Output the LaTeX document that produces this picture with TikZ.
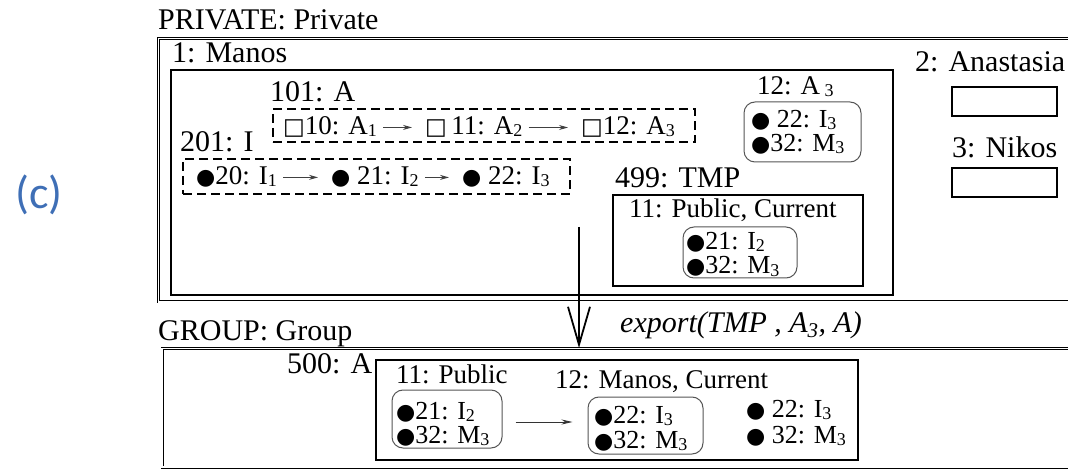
\documentclass[tikz,border=0pt]{standalone}
\usepackage{fontspec}
\setmainfont{Liberation Serif}
\setsansfont{Carlito}
\newfontfamily\symfont{DejaVu Sans}
\usetikzlibrary{arrows.meta}
\definecolor{labelblue}{HTML}{3F6FB6}
\definecolor{boxgray}{HTML}{555555}
\newcommand{\bdot}{{\symfont\fontsize{22}{22}\selectfont ●}}
\newcommand{\wsq}{{\symfont\fontsize{23}{22}\selectfont □}}
\newcommand{\low}[1]{\raisebox{-2pt}{\fontsize{18}{18}\selectfont #1}}
\newcommand{\tightlines}{\lineskiplimit=-40pt\relax}

\begin{document}
\begin{tikzpicture}[x=1pt,y=-1pt,
  lbl/.style={anchor=base west,inner sep=0pt,font=\fontsize{30}{32}\selectfont},
  itm/.style={anchor=base west,inner sep=0pt,font=\fontsize{27}{27}\selectfont},
  rows/.style={anchor=base west,inner sep=0pt,align=left,font=\fontsize{26}{22}\selectfont\tightlines},
  plainbox/.style={draw,line width=1.1pt,inner sep=0pt},
  dbox/.style={draw,line width=1.1pt,dash pattern=on 9pt off 5pt,inner sep=0pt},
  rbox/.style={draw=boxgray,line width=1pt,rounded corners=11pt,inner sep=0pt},
  dblframe/.style={draw,line width=0.7pt,double,double distance=1.6pt},
  sarr/.style={draw=black!75,line width=0.9pt,-{Stealth[length=9pt,width=5pt]},shorten <=6pt,shorten >=13pt},
  garr/.style={draw=black!80,line width=0.9pt,-{Stealth[length=11pt,width=5pt]},shorten <=13pt,shorten >=15pt}]
\useasboundingbox (0,0) rectangle (1068,470);
\draw[dblframe] (1068,38.5) -| (158.5,302) -- (1068,302);
\draw[dblframe] (1068,348.5) -| (162,467) -- (1068,467);
\node[font=\sffamily\fontsize{46}{46}\selectfont,text=labelblue] (tag) at (39,195) {(c)};
\node[lbl] (private) at (158,30) {PRIVATE: Private};
\node[lbl] (group) at (158,340) {GROUP: Group};
\node[plainbox,minimum width=722pt,minimum height=225pt] (manos) at (532,182.5) {};
\node[lbl] (manoslbl) at (172,63) {1: Manos};
\node[lbl] (alabel) at (270,102) {101: A};
\node[lbl] (ilabel) at (180,152) {201: I};
\node[dbox,minimum width=422pt,minimum height=33pt] (boxA) at (484,125.5) {};
\node[dbox,minimum width=387pt,minimum height=35pt] (boxI) at (376.5,176.5) {};
\node[itm] (a10) at (283,135) {\wsq10: A\low{1}};
\node[itm] (a11) at (425,135) {\wsq\,11: A\low{2}};
\node[itm] (a12) at (581,135) {\wsq12: A\low{3}};
\node[itm] (i20) at (196,185) {\bdot20: I\low{1}};
\node[itm] (i21) at (331,185) {\bdot\ 21: I\low{2}};
\node[itm] (i22) at (462,185) {\bdot\ 22: I\low{3}};
\draw[sarr] (a10.east) -- (a10.east -| a11.west);
\draw[sarr] (a11.east) -- (a11.east -| a12.west);
\draw[sarr] (i20.east) -- (i20.east -| i21.west);
\draw[sarr] (i21.east) -- (i21.east -| i22.west);
\node[itm] (a3lbl) at (757,95) {12: A\,\low{3}};
\node[rbox,minimum width=117pt,minimum height=60pt] (boxA3) at (802.5,132) {};
\node[rows] (a3rows) at (751,152) {\bdot\ 22: I\low{3}\\[2pt]\bdot 32: M\low{3}};
\node[lbl] (tmplbl) at (615,188) {499: TMP};
\node[plainbox,minimum width=250pt,minimum height=91pt] (tmp) at (738,240.5) {};
\node[itm] (tmpver) at (629,218) {11: Public, Current};
\node[rbox,minimum width=114pt,minimum height=51pt] (boxTmp) at (740,252.5) {};
\node[rows] (tmprows) at (686,274) {\bdot21: I\low{2}\\[2pt]\bdot32: M\low{3}};
\node[lbl] (anastlbl) at (915,72) {2: Anastasia};
\node[plainbox,minimum width=105pt,minimum height=29pt] (anast) at (1004.5,101.5) {};
\node[lbl] (nikoslbl) at (952,158) {3: Nikos};
\node[plainbox,minimum width=105pt,minimum height=29pt] (nikos) at (1004.5,182.5) {};
\node[lbl] (grplbl) at (287,373) {500: A};
\node[plainbox,minimum width=482pt,minimum height=100pt] (grpA) at (617,410) {};
\node[itm] (publbl) at (396,383) {11: Public};
\node[rbox,minimum width=110pt,minimum height=58pt] (boxPub) at (447,419) {};
\node[rows] (pubrows) at (396,443) {\bdot21: I\low{2}\\[2pt]\bdot32: M\low{3}};
\node[itm] (curlbl) at (555,388) {12: Manos, Current};
\node[rbox,minimum width=115pt,minimum height=57pt] (boxCur) at (645.5,425.5) {};
\node[rows] (currows) at (594,448) {\bdot22: I\low{3}\\[3pt]\bdot32: M\low{3}};
\node[rows] (freerows) at (746,443) {\bdot\ 22: I\low{3}\\[4pt]\bdot\ 32: M\low{3}};
\draw[garr] ([yshift=-3pt]boxPub.east) -- ([yshift=-3pt]boxPub.east -| boxCur.west);
\coordinate (xstart) at (579,227);
\coordinate (xend) at (579,348);
\draw[line width=1.8pt,-{Straight Barb[length=38pt,width=22pt]}] (xstart) -- (xend);
\node[anchor=base west,inner sep=0pt,font=\itshape\fontsize{30}{30}\selectfont] (export) at (620,332) {export(TMP , A\textsubscript{3}, A)};
\end{tikzpicture}
\end{document}
